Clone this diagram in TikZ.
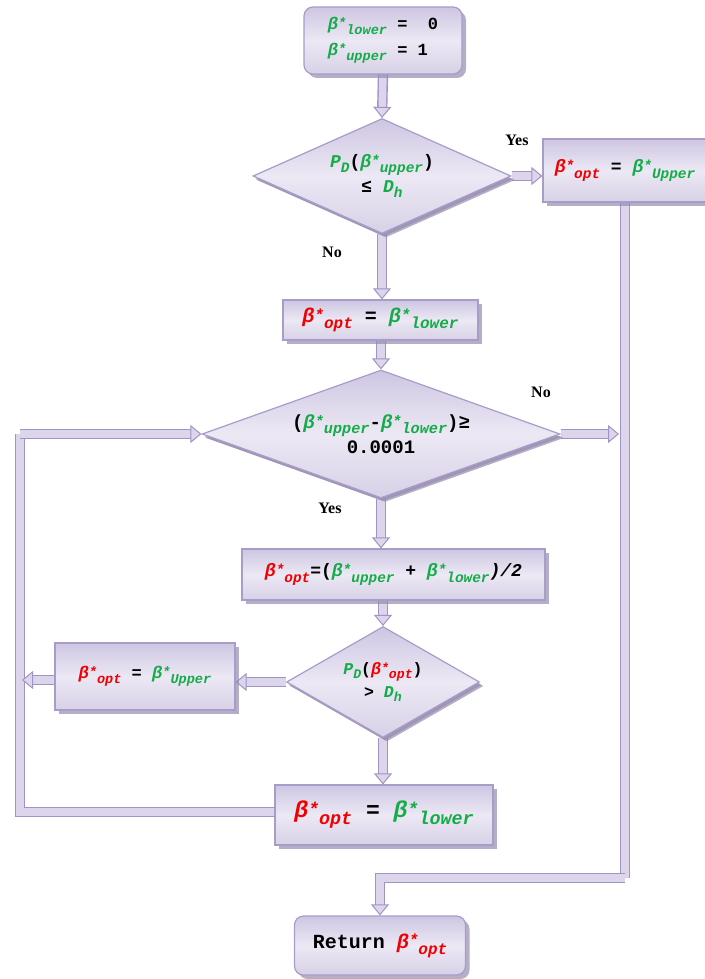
\documentclass[tikz,border=0pt]{standalone}
\usepackage{fontspec}
\setmainfont{Liberation Serif}
\setmonofont{Liberation Mono}
\usetikzlibrary{shapes.geometric,arrows.meta,shadows}
\definecolor{gr}{RGB}{20,172,72}
\definecolor{rd}{RGB}{240,0,0}
\definecolor{bordC}{RGB}{168,156,200}
\definecolor{fillT}{RGB}{206,198,226}
\definecolor{fillM}{RGB}{236,232,244}
\definecolor{fillB}{RGB}{216,209,231}
\definecolor{pipeB}{RGB}{160,148,196}
\definecolor{pipeF}{RGB}{220,213,235}
\definecolor{shC}{RGB}{150,140,175}
\pgfdeclarelayer{bg}\pgfsetlayers{bg,main}
\newcommand\bet[2]{\textcolor{#1}{\itshape β\raisebox{.12em}{\scalebox{.8}{*}}\raisebox{-.3em}{\scalebox{.8}{#2}}}}
\newcommand\sbs[2]{\textcolor{gr}{\itshape #1\raisebox{-.3em}{\scalebox{.8}{#2}}}}
\begin{document}
\begin{tikzpicture}[x=1pt,y=-1pt,
 box/.style={draw=bordC, line width=1.2pt, top color=fillT, bottom color=fillB, middle color=fillM,
   drop shadow={shadow xshift=4pt,shadow yshift=-4pt,fill=shC,opacity=.7},
   inner sep=0pt, font=\ttfamily\bfseries, align=center},
 rbox/.style={box, rounded corners=9pt},
 dia/.style={box, diamond, inner sep=0pt, drop shadow={shadow xshift=2pt,shadow yshift=-3pt,fill=shC,opacity=.7}},
 pipe/.style={draw=pipeB, line width=1.4pt, double=pipeF, double distance=7.5pt},
 arr/.style={pipe, -{Triangle[width=18pt,length=11pt,line width=1pt,fill=pipeF,color=pipeB]}},
 lab/.style={font=\bfseries\fontsize{16}{18}\selectfont}
]
\useasboundingbox (0,0) rectangle (704,979);

\node[rbox, minimum width=158pt, minimum height=67pt, align=left, font=\ttfamily\bfseries\fontsize{17}{26}\selectfont] (start) at (383,40.5)
  {\bet{gr}{lower} =~~0\\\bet{gr}{upper} = 1};
\node[dia, aspect=2.24, minimum width=258pt, minimum height=115pt, font=\ttfamily\bfseries\fontsize{18}{25}\selectfont] (d1) at (382,176)
  {\sbs{P}{D}(\bet{gr}{upper})\\≤ \sbs{D}{h}};
\node[box, minimum width=164pt, minimum height=63pt, font=\ttfamily\bfseries\fontsize{18}{22}\selectfont] (b2) at (625,170.5)
  {\bet{rd}{opt} = \bet{gr}{Upper}};
\node[box, minimum width=195pt, minimum height=40pt, font=\ttfamily\bfseries\fontsize{20}{24}\selectfont] (b3) at (380.5,320)
  {\bet{rd}{opt} = \bet{gr}{lower}};
\node[dia, aspect=2.8, minimum width=358pt, minimum height=128pt, font=\ttfamily\bfseries\fontsize{19}{25}\selectfont] (d2) at (381,434)
  {(\bet{gr}{upper}-\bet{gr}{lower})≥\\0.0001};
\node[box, minimum width=303pt, minimum height=51pt, font=\ttfamily\bfseries\fontsize{18}{22}\selectfont] (b4) at (393.5,574.5)
  {\bet{rd}{opt}=(\bet{gr}{upper} + \bet{gr}{lower}\textit{)/2}};
\node[dia, aspect=1.74, minimum width=193pt, minimum height=111pt, font=\ttfamily\bfseries\fontsize{16.5}{23}\selectfont] (d3) at (383,682)
  {\sbs{P}{D}(\bet{rd}{opt})\\> \sbs{D}{h}};
\node[box, minimum width=180pt, minimum height=67pt, font=\ttfamily\bfseries\fontsize{17}{22}\selectfont] (b5) at (145,676.5)
  {\bet{rd}{opt} = \bet{gr}{Upper}};
\node[box, minimum width=218pt, minimum height=60pt, font=\ttfamily\bfseries\fontsize{23}{28}\selectfont] (b6) at (384,815)
  {\bet{rd}{opt} = \bet{gr}{lower}};
\node[rbox, minimum width=171pt, minimum height=59pt, font=\ttfamily\bfseries\fontsize{20}{24}\selectfont] (ret) at (380,945.5)
  {Return \bet{rd}{opt}};

\node[lab] (yes1) at (517,140) {Yes};
\node[lab] (no1) at (332,252) {No};
\node[lab] (no2) at (541,392) {No};
\node[lab] (yes2) at (330,508) {Yes};

\coordinate (rc) at (625,878);
\coordinate (rj) at (619,434);
\coordinate (lt) at (20,434);
\coordinate (lb) at (20,812);
\coordinate (lj) at (22,680);

\begin{pgfonlayer}{bg}
\draw[pipe] (b2.south) -- (rc);
\draw[arr] (rc) -- (rc -| ret.north) -- (ret.north);
\draw[pipe] (b6.west |- lb) -- (lb) -- (lt);
\draw[arr] (lt) -- (d2.west);
\draw[arr] (start.south) -- (d1.north);
\draw[arr] (d1.east) -- (b2.west |- d1.east);
\draw[arr] (d1.south) -- (d1.south |- b3.north);
\draw[arr] (b3.south -| d2.north) -- (d2.north);
\draw[arr] (d2.east) -- (rj);
\draw[arr] (d2.south) -- (d2.south |- b4.north);
\draw[arr] (d3.north |- b4.south) -- (d3.north);
\draw[arr] (d3.west) -- (d3.west -| b5.east);
\draw[arr] (b5.west |- lj) -- (lj);
\draw[arr] (d3.south) -- (d3.south |- b6.north);
\end{pgfonlayer}
\end{tikzpicture}
\end{document}
